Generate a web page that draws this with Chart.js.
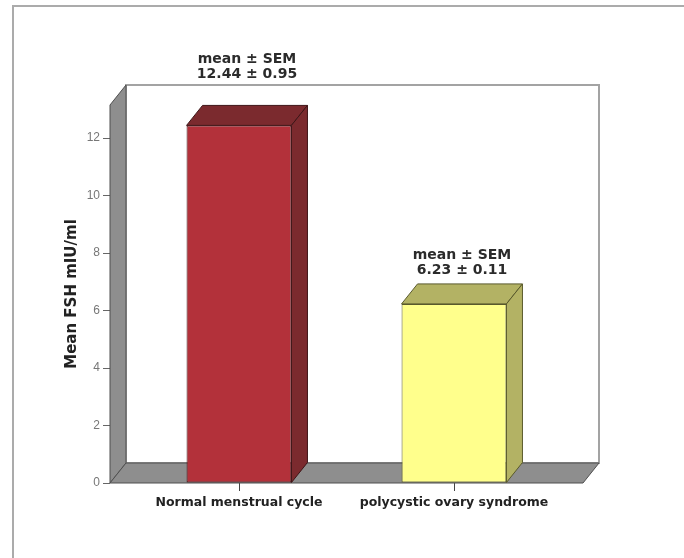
<!DOCTYPE html>
<html>
<head>
<meta charset="utf-8">
<style>
  html, body { margin: 0; padding: 0; background: #fff; }
  #wrap { width: 684px; height: 558px; }
</style>
<script src="https://cdn.jsdelivr.net/npm/chart.js@4/dist/chart.umd.min.js"></script>
</head>
<body>
<div id="wrap"><canvas id="c" width="684" height="558"></canvas></div>
<script>
// Mean FSH (mIU/ml) with standard error, by group
const categories = ['Normal menstrual cycle', 'polycystic ovary syndrome'];
const fshMeans = [12.44, 6.23];
const fshSem = [0.95, 0.11];
const yTicks = [0, 2, 4, 6, 8, 10, 12];

// Face colours for each bar: front, shaded top/side, outline
const frontColors = ['#b3313a', '#ffff8c'];
const shadeColors = ['#7b2a2e', '#b3b264'];
const edgeColors = ['#3e1517', '#5a5a2c'];

// Depth of the 3D box (pixels, towards upper right)
const DX = 16, DY = 20;
const LABEL_GAP = 15;

const box3d = {
  id: 'box3d',
  beforeDraw(chart) {
    const c = chart.ctx;
    c.save();
    c.fillStyle = '#fff';
    c.fillRect(0, 0, chart.width, chart.height);
    // outer frame, running past the right and bottom edges
    c.strokeStyle = '#ababab';
    c.lineWidth = 2;
    c.strokeRect(13, 6, chart.width, chart.height);
    c.restore();
  },
  beforeDatasetsDraw(chart) {
    const c = chart.ctx;
    const { left, right, top, bottom } = chart.chartArea;
    c.save();
    // back wall
    c.fillStyle = '#fff';
    c.strokeStyle = '#a3a3a3';
    c.lineWidth = 2;
    c.beginPath();
    c.rect(left + DX, top - DY, right - left, bottom - top);
    c.fill();
    c.stroke();
    // left wall and floor
    c.fillStyle = '#8e8e8e';
    c.strokeStyle = '#4f4f4f';
    c.lineWidth = 1;
    c.lineJoin = 'round';
    const poly = (pts) => {
      c.beginPath();
      c.moveTo(pts[0][0], pts[0][1]);
      for (let k = 1; k < pts.length; k++) c.lineTo(pts[k][0], pts[k][1]);
      c.closePath();
      c.fill();
      c.stroke();
    };
    poly([[left, bottom], [left, top], [left + DX, top - DY], [left + DX, bottom - DY]]);
    poly([[left, bottom], [right, bottom], [right + DX, bottom - DY], [left + DX, bottom - DY]]);
    c.restore();
  },
  afterDatasetsDraw(chart) {
    const c = chart.ctx;
    const meta = chart.getDatasetMeta(0);
    const top = chart.chartArea.top;
    c.save();
    c.lineWidth = 1;
    c.lineJoin = 'round';
    meta.data.forEach((bar, i) => {
      const { x, y, base, width } = bar.getProps(['x', 'y', 'base', 'width'], true);
      const l = x - width / 2, r = x + width / 2;
      c.fillStyle = shadeColors[i];
      c.strokeStyle = edgeColors[i];
      // top face
      c.beginPath();
      c.moveTo(l, y); c.lineTo(r, y); c.lineTo(r + DX, y - DY); c.lineTo(l + DX, y - DY);
      c.closePath(); c.fill(); c.stroke();
      // side face
      c.beginPath();
      c.moveTo(r, y); c.lineTo(r, base); c.lineTo(r + DX, base - DY); c.lineTo(r + DX, y - DY);
      c.closePath(); c.fill(); c.stroke();

      // mean ± SEM label above the bar; lifted above the back wall when it would cross it
      const cx = x + DX / 2;
      let line2 = y - DY - 10;
      if (line2 - LABEL_GAP - 11 < top - DY) line2 = top - DY - 7.5;
      c.fillStyle = '#2b2b2b';
      c.font = 'bold 14px "DejaVu Sans"';
      c.textAlign = 'center';
      c.textBaseline = 'alphabetic';
      c.fillText('mean \u00b1 SEM', cx, line2 - LABEL_GAP);
      c.fillText(fshMeans[i].toFixed(2) + ' \u00b1 ' + fshSem[i].toFixed(2), cx, line2);
    });
    c.restore();
  }
};

new Chart(document.getElementById('c'), {
  type: 'bar',
  data: {
    datasets: [{
      data: categories.map((name, i) => ({ x: i, y: fshMeans[i] })),
      backgroundColor: frontColors,
      borderColor: edgeColors,
      borderWidth: 1,
      borderSkipped: false,
      categoryPercentage: 1,
      barPercentage: 0.488
    }]
  },
  options: {
    responsive: false,
    animation: false,
    layout: { padding: { left: 63, right: 101, top: 105, bottom: 35 } },
    plugins: { legend: { display: false }, tooltip: { enabled: false } },
    scales: {
      x: {
        type: 'linear',
        min: -0.6,
        max: 1.6,
        offset: false,
        afterBuildTicks: (s) => { s.ticks = categories.map((name, i) => ({ value: i })); },
        afterFit: (s) => { s.height = 40; },
        grid: { offset: false, drawOnChartArea: false, drawTicks: true, tickLength: 8, color: '#444' },
        border: { display: false },
        ticks: {
          callback: (v) => categories[v] ?? '',
          font: { family: 'DejaVu Sans', weight: 'bold', size: 12.5 },
          color: '#222',
          padding: 4,
          maxRotation: 0,
          autoSkip: false
        }
      },
      y: {
        min: 0,
        max: 13.15,
        afterBuildTicks: (s) => { s.ticks = yTicks.map((v) => ({ value: v })); },
        afterFit: (s) => { s.width = 47; },
        grid: { drawOnChartArea: false, tickLength: 7, color: '#666' },
        border: { display: false },
        ticks: {
          font: { family: 'Liberation Sans', size: 12 },
          color: '#777',
          padding: 3
        },
        title: {
          display: true,
          text: 'Mean FSH mIU/ml',
          font: { family: 'DejaVu Sans', weight: 'bold', size: 15 },
          color: '#222',
          padding: 0
        }
      }
    }
  },
  plugins: [box3d]
});
</script>
</body>
</html>
